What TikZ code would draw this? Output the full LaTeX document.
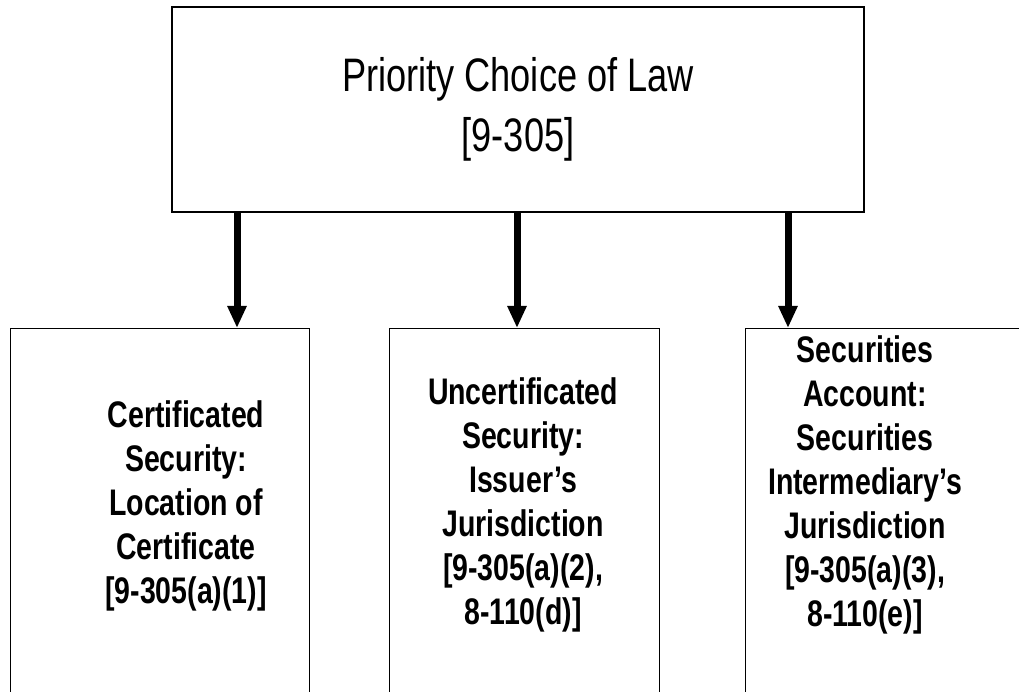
\documentclass[tikz,border=0pt]{standalone}
\usepackage{fontspec}
\setmainfont{Liberation Sans}[FakeStretch=0.77]
\usepackage{tikz}
\usetikzlibrary{arrows.meta,positioning}

\begin{document}
\begin{tikzpicture}[
      x=1pt, y=-1pt,
      block/.style={draw, line width=1.3pt, minimum width=#1, minimum height=400pt, anchor=north west, inner sep=0pt},
      topblock/.style={draw, line width=1.3pt, align=center, minimum width=692pt, minimum height=205pt,
                       font=\fontsize{47}{60}\selectfont},
      txt/.style={align=center, font=\fontsize{37}{44}\selectfont\bfseries},
      arr/.style={line width=7pt, -{Triangle[length=22pt,width=18pt]}}
    ]
    \useasboundingbox (0,0) rectangle (1019,692);
    \clip (0,0) rectangle (1019,692);
    % Nodes
    \node[topblock] (prio) at (518,109.5) {Priority Choice of Law\\{}[9-305]};
    \node[block=299pt] (cert) at (10,328) {};
    \node[block=270pt] (uncert) at (389,328) {};
    \node[block=295pt] (acct) at (745,328) {};

    % Box texts
    \node[txt] (certtxt) at (186,506) {Certificated\\Security:\\Location of\\Certificate\\{}[9-305(a)(1)]};
    \node[txt] (uncerttxt) at (523,505) {Uncertificated\\Security:\\Issuer’s\\Jurisdiction\\{}[9-305(a)(2),\\8-110(d)]};
    \node[txt] (accttxt) at (865,485) {Securities\\Account:\\Securities\\Intermediary’s\\Jurisdiction\\{}[9-305(a)(3),\\8-110(e)]};

    % Arrows
    \draw[arr] (prio.south -| 237,0) -- (cert.north -| 237,0);
    \draw[arr] (prio.south -| 517,0) -- (uncert.north -| 517,0);
    \draw[arr] (prio.south -| 788,0) -- (acct.north -| 788,0);
  \end{tikzpicture}
\end{document}
